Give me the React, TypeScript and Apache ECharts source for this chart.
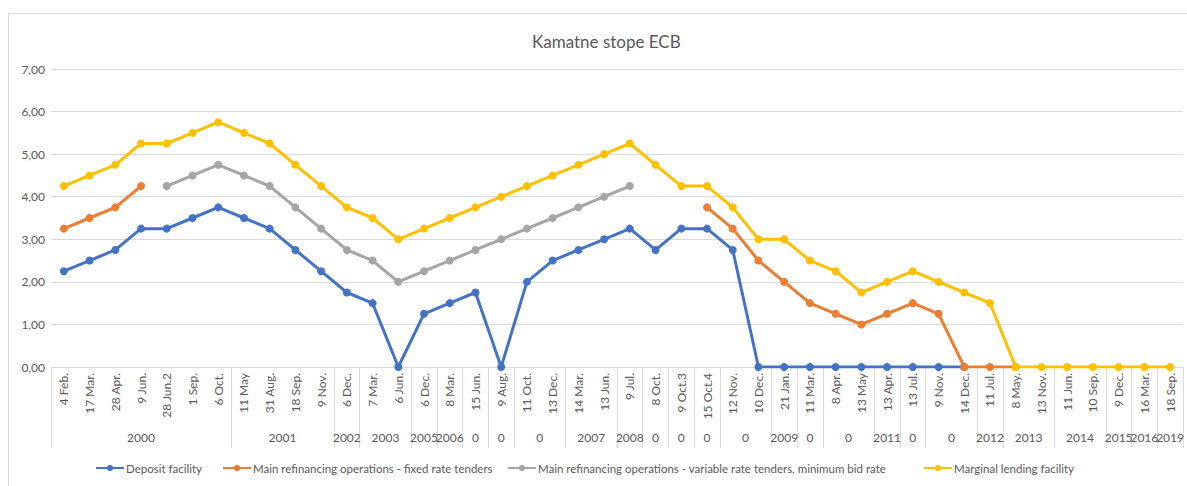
import React, { useEffect, useRef } from "react";
import * as echarts from "echarts";

const categories = ["4 Feb.", "17 Mar.", "28 Apr.", "9 Jun.", "28 Jun.2", "1 Sep.", "6 Oct.", "11 May", "31 Aug.", "18 Sep.", "9 Nov.", "6 Dec.", "7 Mar.", "6 Jun.", "6 Dec.", "8 Mar.", "15 Jun.", "9 Aug.", "11 Oct.", "13 Dec.", "14 Mar.", "13 Jun.", "9 Jul.", "8 Oct.", "9 Oct.3", "15 Oct.4", "12 Nov.", "10 Dec.", "21 Jan.", "11 Mar.", "8 Apr.", "13 May", "13 Apr.", "13 Jul.", "9 Nov.", "14 Dec.", "11 Jul.", "8 May.", "13 Nov.", "11 Jun.", "10 Sep.", "9 Dec.", "16 Mar.", "18 Sep."];

const groupLabels = ["2000", "2001", "2002", "2003", "2005", "2006", "0", "0", "0", "2007", "2008", "0", "0", "0", "0", "2009", "0", "0", "2011", "0", "0", "2012", "2013", "2014", "2015", "2016", "2019"];
const groupSpans = [7, 4, 1, 2, 1, 1, 1, 1, 2, 2, 1, 1, 1, 1, 2, 1, 1, 2, 1, 1, 2, 1, 2, 2, 1, 1, 1];

const depositFacility = [2.25, 2.5, 2.75, 3.25, 3.25, 3.5, 3.75, 3.5, 3.25, 2.75, 2.25, 1.75, 1.5, 0, 1.25, 1.5, 1.75, 0, 2.0, 2.5, 2.75, 3.0, 3.25, 2.75, 3.25, 3.25, 2.75, 0, 0, 0, 0, 0, 0, 0, 0, 0, null, null, null, null, null, null, null, null];
const fixedRate = [3.25, 3.5, 3.75, 4.25, null, null, null, null, null, null, null, null, null, null, null, null, null, null, null, null, null, null, null, null, null, 3.75, 3.25, 2.5, 2.0, 1.5, 1.25, 1.0, 1.25, 1.5, 1.25, 0, 0, 0, null, null, null, null, null, null];
const variableRate = [null, null, null, null, 4.25, 4.5, 4.75, 4.5, 4.25, 3.75, 3.25, 2.75, 2.5, 2.0, 2.25, 2.5, 2.75, 3.0, 3.25, 3.5, 3.75, 4.0, 4.25, null, null, null, null, null, null, null, null, null, null, null, null, null, null, null, null, null, null, null, null, null];
const marginalLending = [4.25, 4.5, 4.75, 5.25, 5.25, 5.5, 5.75, 5.5, 5.25, 4.75, 4.25, 3.75, 3.5, 3.0, 3.25, 3.5, 3.75, 4.0, 4.25, 4.5, 4.75, 5.0, 5.25, 4.75, 4.25, 4.25, 3.75, 3.0, 3.0, 2.5, 2.25, 1.75, 2.0, 2.25, 2.0, 1.75, 1.5, 0, 0, 0, 0, 0, 0, 0];

const seriesNames = [
  "Deposit facility",
  "Main refinancing operations - fixed rate tenders",
  "Main refinancing operations - variable rate tenders, minimum bid rate",
  "Marginal lending facility",
];
const seriesColors = ["#4472C4", "#ED7D31", "#A5A5A5", "#FFC000"];
const legendLefts = [95, 222, 507, 923];

const FONT = "Lato";
const TEXT = "#595959";
const GRID = "#D9D9D9";

export default function App() {
  const ref = useRef<HTMLDivElement>(null);
  useEffect(() => {
    if (!ref.current) return;
    const chart = echarts.init(ref.current, null, { renderer: "svg" });

    const n = categories.length;
    const groupAxisData: string[] = [];
    for (let k = 0; k <= 2 * n; k++) groupAxisData.push("");
    const boundaries = new Set<number>();
    let start = 0;
    boundaries.add(0);
    groupLabels.forEach((g, i) => {
      const span = groupSpans[i];
      groupAxisData[2 * start + span] = g;
      start += span;
      boundaries.add(2 * start);
    });

    const allData = [depositFacility, fixedRate, variableRate, marginalLending];

    chart.setOption({
      animation: false,
      textStyle: { fontFamily: FONT },
      title: {
        text: "Kamatne stope ECB",
        left: 527,
        top: 28,
        textStyle: { fontFamily: FONT, fontSize: 17, fontWeight: "normal", color: TEXT },
      },
      graphic: [
        {
          type: "rect",
          shape: { x: 8.5, y: 13.5, width: 1200, height: 500 },
          style: { fill: "none", stroke: GRID, lineWidth: 1 },
          silent: true,
        },
      ],
      legend: seriesNames.map((name, i) => ({
        left: legendLefts[i],
        top: 462,
        padding: 0,
        itemWidth: 28,
        itemHeight: 8,
        itemGap: 0,
        textStyle: { fontFamily: FONT, fontSize: 11.5, color: TEXT, padding: [0, 0, 0, -3] },
        data: [name],
      })),
      grid: { left: 51, right: 2, top: 69, bottom: 119, containLabel: false },
      xAxis: [
        {
          type: "category",
          data: categories,
          boundaryGap: true,
          axisLine: { show: true, lineStyle: { color: GRID, width: 1 } },
          axisTick: { show: false },
          axisLabel: {
            interval: 0,
            rotate: 90,
            margin: 6,
            fontFamily: FONT,
            fontSize: 12,
            color: TEXT,
          },
        },
        {
          type: "category",
          data: groupAxisData,
          boundaryGap: false,
          position: "bottom",
          axisLine: { show: false },
          axisTick: {
            show: true,
            length: 81,
            interval: (index: number) => boundaries.has(index),
            lineStyle: { color: GRID, width: 1 },
          },
          axisLabel: {
            interval: 0,
            margin: 64,
            fontFamily: FONT,
            fontSize: 12,
            color: TEXT,
          },
          splitLine: { show: false },
        },
      ],
      yAxis: {
        type: "value",
        min: 0,
        max: 7,
        interval: 1,
        axisLine: { show: false },
        axisTick: { show: false },
        splitLine: { lineStyle: { color: GRID, width: 1 } },
        axisLabel: {
          margin: 6,
          fontFamily: FONT,
          fontSize: 12,
          color: TEXT,
          formatter: (v: number) => v.toFixed(2).replace(".", ","),
        },
      },
      series: seriesNames.map((name, i) => ({
        name,
        type: "line",
        xAxisIndex: 0,
        data: allData[i],
        color: seriesColors[i],
        symbol: "circle",
        symbolSize: 8,
        lineStyle: { width: 3, color: seriesColors[i] },
        itemStyle: { color: seriesColors[i] },
        connectNulls: false,
      })),
    });
    return () => chart.dispose();
  }, []);
  return (
    <div
      ref={ref}
      style={{ position: "fixed", left: 0, top: 0, width: 1187, height: 486, background: "#fff" }}
    />
  );
}
